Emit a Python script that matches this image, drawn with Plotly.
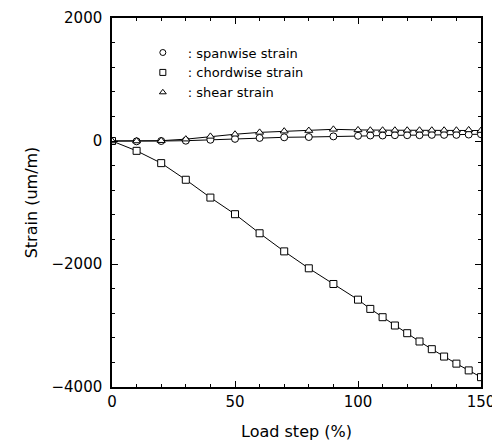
import plotly.graph_objects as go

load_step = [0, 10, 20, 30, 40, 50, 60, 70, 80, 90, 100, 105, 110, 115, 120, 125, 130, 135, 140, 145, 150]
spanwise = [0, -5, 0, 5, 20, 35, 50, 60, 65, 75, 85, 90, 90, 95, 95, 95, 100, 100, 100, 105, 110]
chordwise = [0, -160, -360, -630, -920, -1190, -1500, -1795, -2070, -2325, -2580, -2730, -2865, -3000,
             -3125, -3260, -3385, -3505, -3620, -3730, -3840]
shear = [0, 0, 5, 30, 75, 110, 140, 160, 170, 190, 180, 175, 175, 175, 175, 175, 175, 175, 175, 180, 170]

series = [
    (": spanwise strain", spanwise, "circle"),
    (": chordwise strain", chordwise, "square"),
    (": shear strain", shear, "triangle-up"),
]

FONT = "DejaVu Sans"
fig = go.Figure()
for name, vals, sym in series:
    fig.add_trace(go.Scatter(
        x=load_step, y=vals, mode="lines+markers", showlegend=False,
        line=dict(color="black", width=1),
        marker=dict(symbol=sym, size=7, color="white", line=dict(color="black", width=1)),
    ))
for name, vals, sym in series:
    fig.add_trace(go.Scatter(
        x=[None], y=[None], mode="markers", name=name,
        marker=dict(symbol=sym, size=6, color="white", line=dict(color="black", width=1)),
    ))

axis_common = dict(
    showgrid=False, zeroline=False, showline=True, linecolor="black", linewidth=1.5,
    mirror="allticks", ticks="inside", ticklen=6, tickcolor="black", tickwidth=1,
    tickfont=dict(family=FONT, size=15, color="black"), automargin=False,
)
fig.update_xaxes(
    range=[0, 150], tickvals=[0, 50, 100, 150],
    minor=dict(dtick=10, tick0=0, ticks="inside", ticklen=3, tickcolor="black"),
    title=dict(text="Load step (%)", font=dict(family=FONT, size=16, color="black"), standoff=16),
    **axis_common,
)
fig.update_yaxes(
    range=[-4000, 2000], tickvals=[-4000, -2000, 0, 2000],
    ticktext=["\u22124000", "\u22122000", "0", "2000"],
    minor=dict(dtick=400, tick0=0, ticks="inside", ticklen=3, tickcolor="black"),
    ticklabelstandoff=5,
    title=dict(text="Strain (um/m)", font=dict(family=FONT, size=16, color="black"), standoff=10),
    **axis_common,
)
fig.update_layout(
    width=492, height=437,
    margin=dict(l=104, r=19, t=10, b=58),
    paper_bgcolor="white", plot_bgcolor="white",
    font=dict(family=FONT, size=13, color="black"),
    legend=dict(x=0.07, y=0.947, xanchor="left", yanchor="top", bgcolor="rgba(0,0,0,0)",
                font=dict(family=FONT, size=13, color="black"), tracegroupgap=0,
                itemsizing="trace", itemwidth=40),
)
fig.write_html("out.html")
